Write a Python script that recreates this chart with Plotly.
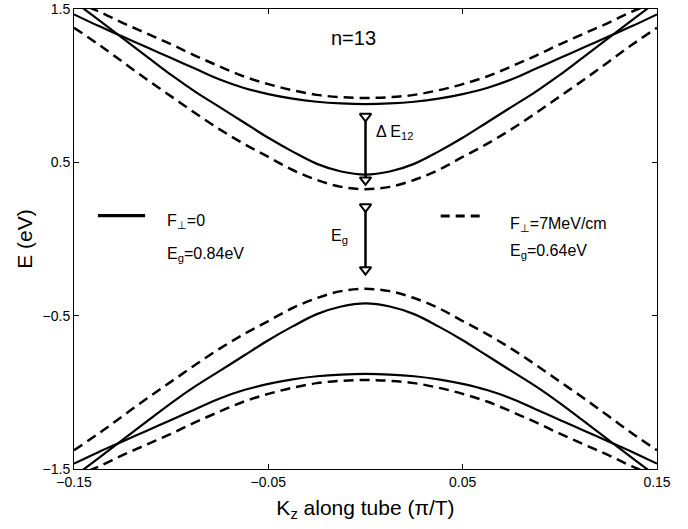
import plotly.graph_objects as go

# wave vector along tube (pi/T)
k = [-0.15, -0.1375, -0.125, -0.1125, -0.1, -0.0875, -0.075, -0.0625, -0.05, -0.0375, -0.025, -0.0125, 0.0,
     0.0125, 0.025, 0.0375, 0.05, 0.0625, 0.075, 0.0875, 0.1, 0.1125, 0.125, 0.1375, 0.15]

# F=0 (solid) conduction bands
c1_solid = [1.55, 1.43, 1.31, 1.19, 1.07, 0.96, 0.86, 0.76, 0.66, 0.57, 0.49, 0.44, 0.42,
            0.44, 0.49, 0.57, 0.66, 0.76, 0.86, 0.96, 1.07, 1.19, 1.31, 1.43, 1.55]
c2_solid = [1.465, 1.39, 1.32, 1.25, 1.18, 1.11, 1.04, 0.985, 0.945, 0.915, 0.895, 0.884, 0.88,
            0.884, 0.895, 0.915, 0.945, 0.985, 1.04, 1.11, 1.18, 1.25, 1.32, 1.39, 1.465]
# F=7MeV/cm (dashed) conduction bands
c1_dash = [1.378, 1.27, 1.155, 1.04, 0.93, 0.82, 0.715, 0.62, 0.535, 0.45, 0.385, 0.34, 0.325,
           0.34, 0.385, 0.45, 0.535, 0.62, 0.715, 0.82, 0.93, 1.04, 1.155, 1.27, 1.378]
c2_dash = [1.55, 1.485, 1.41, 1.34, 1.27, 1.195, 1.125, 1.06, 1.01, 0.97, 0.94, 0.925, 0.92,
           0.925, 0.94, 0.97, 1.01, 1.06, 1.125, 1.195, 1.27, 1.34, 1.41, 1.485, 1.55]
# valence bands
v1_solid = [-1.55, -1.43, -1.31, -1.19, -1.07, -0.96, -0.86, -0.76, -0.66, -0.57, -0.49, -0.44, -0.42,
            -0.44, -0.49, -0.57, -0.66, -0.76, -0.86, -0.96, -1.07, -1.19, -1.31, -1.43, -1.55]
v2_solid = [-1.465, -1.39, -1.32, -1.25, -1.18, -1.11, -1.04, -0.985, -0.945, -0.915, -0.895, -0.884, -0.88,
            -0.884, -0.895, -0.915, -0.945, -0.985, -1.04, -1.11, -1.18, -1.25, -1.32, -1.39, -1.465]
v1_dash = [-1.378, -1.27, -1.155, -1.04, -0.93, -0.82, -0.715, -0.62, -0.535, -0.45, -0.385, -0.34, -0.325,
           -0.34, -0.385, -0.45, -0.535, -0.62, -0.715, -0.82, -0.93, -1.04, -1.155, -1.27, -1.378]
v2_dash = [-1.55, -1.485, -1.41, -1.34, -1.27, -1.195, -1.125, -1.06, -1.01, -0.97, -0.94, -0.925, -0.92,
           -0.925, -0.94, -0.97, -1.01, -1.06, -1.125, -1.195, -1.27, -1.34, -1.41, -1.485, -1.55]

# arrows
arrow_k = [0.0, 0.0]
dE12_E = [0.80, 0.385]
eg_E = [0.21, -0.20]

x_ticks = [-0.15, -0.05, 0.05, 0.15]
x_ticktext = ["\u22120.15", "\u22120.05", "0.05", "0.15"]
y_ticks = [-1.5, -0.5, 0.5, 1.5]
y_ticktext = ["\u22121.5", "\u22120.5", "0.5", "1.5"]

FONT = "Liberation Sans, Arial, sans-serif"

fig = go.Figure()
for ys in [c1_solid, c2_solid, v1_solid, v2_solid]:
    fig.add_trace(go.Scatter(x=k, y=ys, mode="lines", line=dict(color="black", width=2.2, shape="spline"),
                             showlegend=False, hoverinfo="skip"))
for ys in [c1_dash, c2_dash, v1_dash, v2_dash]:
    fig.add_trace(go.Scatter(x=k, y=ys, mode="lines",
                             line=dict(color="black", width=2.5, dash="10px,6px", shape="spline"),
                             showlegend=False, hoverinfo="skip"))
for ys in [dE12_E, eg_E]:
    fig.add_trace(go.Scatter(x=arrow_k, y=ys, mode="lines+markers",
                             line=dict(color="black", width=2.5),
                             marker=dict(symbol="triangle-down", size=10, color="white",
                                         line=dict(color="black", width=2)),
                             showlegend=False, hoverinfo="skip", cliponaxis=False))

# legend samples
fig.add_shape(type="line", xref="paper", yref="paper", x0=0.041, x1=0.122, y0=0.5507, y1=0.5507,
              line=dict(color="black", width=3.2))
fig.add_shape(type="line", xref="paper", yref="paper", x0=0.629, x1=0.696, y0=0.55, y1=0.55,
              line=dict(color="black", width=3.2, dash="9px,6px"))

def ann(text, x, y, size=16, xanchor="left"):
    fig.add_annotation(text=text, x=x, y=y, xref="paper", yref="paper", showarrow=False,
                       xanchor=xanchor, yanchor="middle", font=dict(family=FONT, size=size, color="black"))

ann("F<sub>\u22a5</sub>=0", 0.156, 0.538)
ann("E<sub>g</sub>=0.84eV", 0.156, 0.467)
ann("F<sub>\u22a5</sub>=7MeV/cm", 0.744, 0.531)
ann("E<sub>g</sub>=0.64eV", 0.744, 0.472)
ann("n=13", 0.479, 0.938, size=20, xanchor="center")
ann("\u0394 E<sub>12</sub>", 0.515, 0.731)
ann("E<sub>g</sub>", 0.437, 0.505)

fig.update_layout(
    width=688, height=529,
    margin=dict(l=74, r=31, t=9, b=60, autoexpand=False),
    paper_bgcolor="white", plot_bgcolor="white",
    font=dict(family=FONT, color="black"),
    xaxis=dict(range=[-0.15, 0.15], tickvals=x_ticks, ticktext=x_ticktext, automargin=False,
               ticks="inside", ticklen=5, tickcolor="black", mirror="ticks",
               showline=True, linecolor="black", linewidth=1, showgrid=False, zeroline=False,
               tickfont=dict(size=14, family=FONT),
               title=dict(text="K<sub>z</sub> along tube (\u03c0/T)", font=dict(size=21, family=FONT), standoff=11)),
    yaxis=dict(range=[-1.5, 1.5], tickvals=y_ticks, ticktext=y_ticktext, automargin=False,
               ticks="inside", ticklen=5, tickcolor="black", mirror="ticks",
               showline=True, linecolor="black", linewidth=1, showgrid=False, zeroline=False,
               tickfont=dict(size=14, family=FONT),
               title=dict(text="E (eV)", font=dict(size=21, family=FONT), standoff=4)),
)

fig.write_html("out.html", config={"displayModeBar": False},
               post_script="document.body.style.margin='0px';document.body.style.overflow='hidden';")
